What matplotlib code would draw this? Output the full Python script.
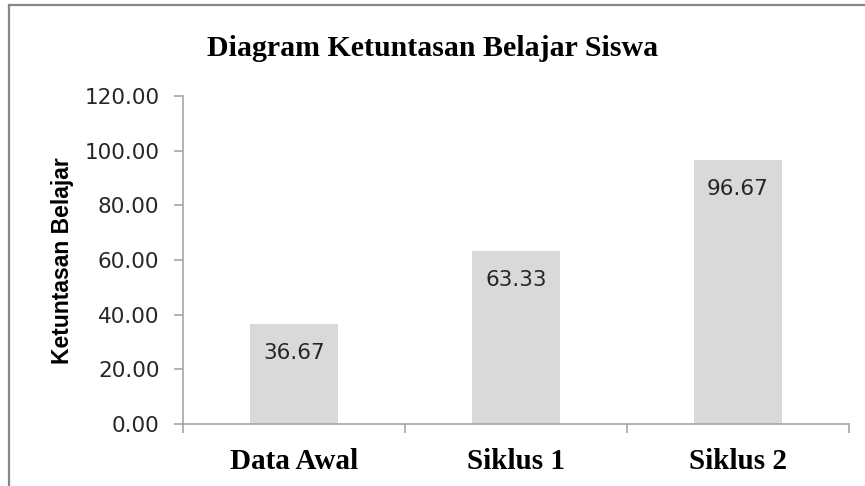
import matplotlib
matplotlib.use("Agg")
import matplotlib.pyplot as plt
from matplotlib.lines import Line2D

# data
categories = ["Data Awal", "Siklus 1", "Siklus 2"]
ketuntasan = [36.67, 63.33, 96.67]
y_ticks = [0, 20, 40, 60, 80, 100, 120]

W, H = 865, 486
AXIS_GRAY = "#a6a6a6"
BAR_GRAY = "#d9d9d9"

fig = plt.figure(figsize=(W / 100, H / 100), dpi=100)
ax = fig.add_axes([183 / W, 1 - 424 / H, (849 - 183) / W, (424 - 96) / H])

x = list(range(len(categories)))
bars = ax.bar(x, ketuntasan, width=0.4, color=BAR_GRAY, edgecolor="none")

for xi, v in zip(x, ketuntasan):
    ax.annotate(f"{v:.2f}", (xi, v), xytext=(0, -21), textcoords="offset points",
                ha="center", va="center", fontsize=15.5, family="DejaVu Sans",
                color="#262626")

ax.set_xlim(-0.5, len(categories) - 0.5)
ax.set_ylim(0, 120)
ax.set_yticks(y_ticks)
ax.set_yticklabels([f"{t:.2f}" for t in y_ticks], family="DejaVu Sans",
                   fontsize=15.5, color="#262626")
ax.set_xticks(x)
ax.set_xticklabels(categories, family="Liberation Serif", fontweight="bold",
                   fontsize=21)
ax.set_xticks([i - 0.5 for i in range(len(categories) + 1)], minor=True)

ax.tick_params(axis="y", direction="out", length=6.5, width=1.2,
               color=AXIS_GRAY, pad=10.5)
ax.tick_params(axis="x", which="major", length=0, pad=17)
ax.tick_params(axis="x", which="minor", direction="out", length=6.5,
               width=1.2, color=AXIS_GRAY)

for side in ("top", "right"):
    ax.spines[side].set_visible(False)
for side in ("left", "bottom"):
    ax.spines[side].set_color(AXIS_GRAY)
    ax.spines[side].set_linewidth(1.2)

fig.text(0.5, 1 - 56 / H, "Diagram Ketuntasan Belajar Siswa",
         ha="center", va="baseline", family="Liberation Serif",
         fontweight="bold", fontsize=21.5)
fig.text(63 / W, 1 - 261 / H, "Ketuntasan Belajar", rotation=90,
         ha="center", va="center", family="Liberation Sans",
         fontweight="bold", fontsize=16.5)

# outer frame (only left and top visible in the crop)
fig.add_artist(Line2D([8.5 / W, 8.5 / W], [0, 1 - 5 / H],
                      transform=fig.transFigure, color="#878787", lw=1.6))
fig.add_artist(Line2D([8.5 / W, 1], [1 - 5 / H, 1 - 5 / H],
                      transform=fig.transFigure, color="#878787", lw=1.6))

fig.savefig("out.png", dpi=100, facecolor="white")
